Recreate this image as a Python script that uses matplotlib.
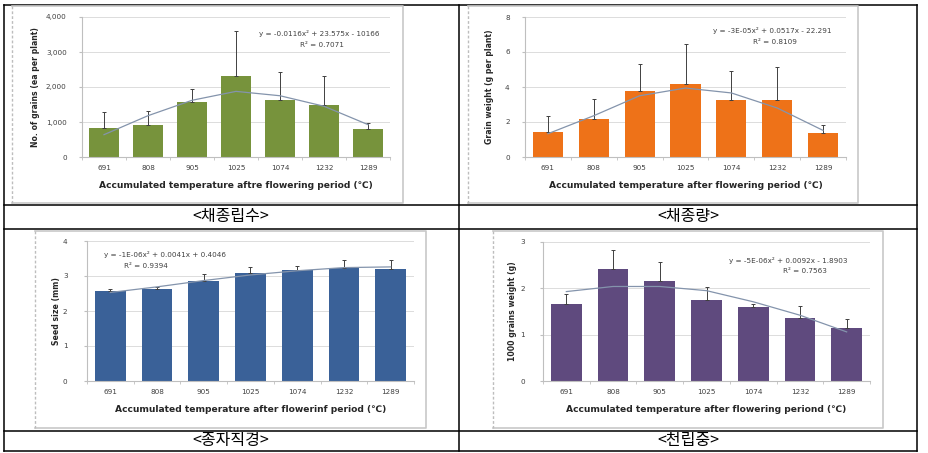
import numpy as np
import matplotlib
matplotlib.use('Agg')
import matplotlib.pyplot as plt
import matplotlib.ticker as mtick
from matplotlib.lines import Line2D

plt.rcParams["font.family"] = ["DejaVu Sans", "Noto Sans CJK KR"]

W, H = 929, 453

temps = ["691", "808", "905", "1025", "1074", "1232", "1289"]

# <채종립수> number of grains
grains_mean = [830, 925, 1560, 2305, 1640, 1485, 810]
grains_sd = [445, 380, 390, 1285, 780, 840, 160]
grains_trend = [638, 1180, 1620, 1875, 1750, 1450, 925]

# <채종량> grain weight
weight_mean = [1.43, 2.19, 3.75, 4.19, 3.24, 3.24, 1.37]
weight_sd = [0.93, 1.12, 1.58, 2.27, 1.66, 1.88, 0.48]
weight_trend = [1.33, 2.36, 3.50, 3.94, 3.66, 2.80, 1.52]

# <종자직경> seed size
size_mean = [2.57, 2.62, 2.86, 3.10, 3.18, 3.22, 3.21]
size_sd = [0.05, 0.06, 0.21, 0.16, 0.12, 0.25, 0.26]
size_trend = [2.53, 2.69, 2.87, 3.03, 3.15, 3.24, 3.26]

# <천립중> 1000 grains weight
tgw_mean = [1.67, 2.41, 2.15, 1.74, 1.59, 1.37, 1.14]
tgw_sd = [0.20, 0.42, 0.42, 0.28, 0.07, 0.25, 0.19]
tgw_trend = [1.93, 2.04, 2.04, 1.95, 1.71, 1.42, 1.06]


def px_box(x0, y0, x1, y1):
    return [x0 / W, 1 - y1 / H, (x1 - x0) / W, (y1 - y0) / H]


def fx(x):
    return x / W


def fy(y):
    return 1 - y / H


def fig_line(xs, ys, **kw):
    fig.add_artist(Line2D([fx(v) for v in xs], [fy(v) for v in ys], **kw))


fig = plt.figure(figsize=(W / 100, H / 100), dpi=100)

# table lines
lw = 1.1
for y in [5, 205, 229, 431, 451]:
    fig_line([4, 917], [y, y], color="black", lw=lw)
for x in [4, 459, 917]:
    fig_line([x, x], [5, 451], color="black", lw=lw)

# chart image frames (left edge dashed where the image was cropped)
for (x0, y0, x1, y1) in [(12, 6, 403, 203), (468, 6, 858, 203),
                         (35, 231, 426, 428), (493, 231, 883, 428)]:
    fig_line([x0, x1, x1, x0], [y0, y0, y1, y1], color="#C8C8C8", lw=1.2)
    fig_line([x0, x0], [y0, y1], color="#BDBDBD", lw=1.0, ls=(0, (2, 1.5)))


def bar_panel(box, mean, sd, trend, color, ymax, ystep, fmt, ylabel, xlabel,
              eq, r2, eq_xy, r2_xy, ylab_x, xlab_y, ypad):
    ax = fig.add_axes(px_box(*box))
    x = np.arange(len(temps))
    ax.bar(x, mean, width=0.66, color=color, zorder=2)
    ax.errorbar(x, mean, yerr=[np.zeros(len(sd)), sd], fmt="none",
                ecolor="#404040", elinewidth=0.7, capsize=1.5, capthick=0.7, zorder=3)
    ax.plot(x, trend, color="#8494AC", lw=0.9, zorder=4)
    ax.set_xlim(-0.5, len(temps) - 0.5)
    ax.set_ylim(0, ymax)
    ax.set_yticks(np.arange(0, ymax + ystep / 2, ystep))
    ax.yaxis.set_major_formatter(mtick.StrMethodFormatter(fmt))
    ax.set_xticks(x)
    ax.set_xticklabels(temps)
    ax.set_xticks(np.arange(-0.5, len(temps)), minor=True)
    ax.grid(axis="y", color="#DCDCDC", lw=0.7, zorder=0)
    for s in ["top", "right"]:
        ax.spines[s].set_visible(False)
    ax.spines["left"].set_color("#BFBFBF")
    ax.spines["bottom"].set_color("#BFBFBF")
    ax.tick_params(axis="x", which="major", length=0, labelsize=5.2,
                   labelcolor="#404040", pad=6)
    ax.tick_params(axis="x", which="minor", length=2, color="#BFBFBF")
    ax.tick_params(axis="y", length=2, color="#BFBFBF", labelsize=5.2,
                   labelcolor="#404040", pad=ypad)
    ax.text(eq_xy[0], eq_xy[1], eq, transform=ax.transAxes, fontsize=5.2,
            color="#404040", ha="center", va="center")
    ax.text(r2_xy[0], r2_xy[1], r2, transform=ax.transAxes, fontsize=5.2,
            color="#404040", ha="center", va="center")
    b = box
    fig.text(fx(ylab_x), fy((b[1] + b[3]) / 2), ylabel, rotation=90,
             ha="center", va="center", fontsize=5.6, fontweight="bold", color="#262626")
    fig.text(fx((b[0] + b[2]) / 2), fy(xlab_y), xlabel,
             ha="center", va="center", fontsize=6.6, fontweight="bold", color="#262626")
    return ax


bar_panel((82, 17, 390, 157), grains_mean, grains_sd, grains_trend, "#77933C",
          4000, 1000, "{x:,.0f}", "No. of grains (ea per plant)",
          "Accumulated temperature aftre flowering period (\u2103)",
          "y = -0.0116x\u00b2 + 23.575x - 10166", "R\u00b2 = 0.7071",
          (0.77, 0.88), (0.78, 0.80), 35, 185, 9)

bar_panel((525, 17, 846, 157), weight_mean, weight_sd, weight_trend, "#EE7218",
          8, 2, "{x:.0f}", "Grain weight (g per plant)",
          "Accumulated temperature after flowering period (\u2103)",
          "y = -3E-05x\u00b2 + 0.0517x - 22.291", "R\u00b2 = 0.8109",
          (0.77, 0.90), (0.78, 0.82), 489, 186, 9)

bar_panel((87, 241, 414, 381), size_mean, size_sd, size_trend, "#3A6198",
          4, 1, "{x:.0f}", "Seed size (mm)",
          "Accumulated temperature after flowerinf period (\u2103)",
          "y = -1E-06x\u00b2 + 0.0041x + 0.4046", "R\u00b2 = 0.9394",
          (0.24, 0.90), (0.18, 0.82), 57, 409, 12)

bar_panel((543, 242, 870, 381), tgw_mean, tgw_sd, tgw_trend, "#5F4A7E",
          3, 1, "{x:.0f}", "1000 grains weight (g)",
          "Accumulated temperature after flowering periond (\u2103)",
          "y = -5E-06x\u00b2 + 0.0092x - 1.8903", "R\u00b2 = 0.7563",
          (0.75, 0.87), (0.80, 0.79), 513, 409, 11)

# captions
cap_font = ["Noto Sans CJK KR", "DejaVu Sans"]
for text, x, y in [("<채종립수>", 231, 217), ("<채종량>", 688, 217),
                   ("<종자직경>", 231, 441), ("<천립중>", 688, 441)]:
    fig.text(fx(x), fy(y), text, ha="center", va="center", fontsize=11.5,
             family=cap_font)

fig.savefig("out.png", dpi=100)
